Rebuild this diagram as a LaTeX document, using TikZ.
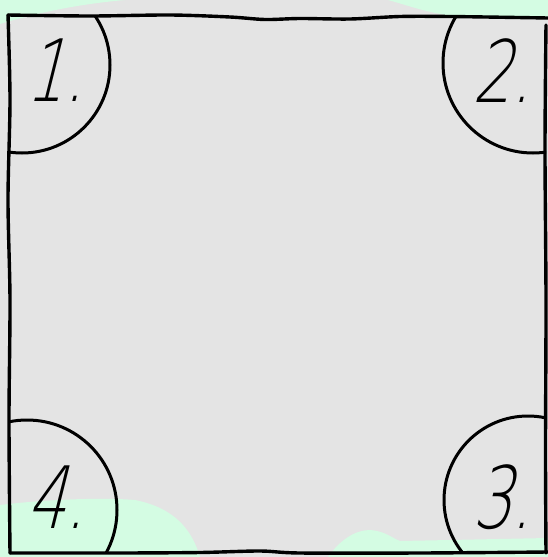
\documentclass[tikz,border=0pt]{standalone}
\usepackage{fontspec}
\newfontfamily\handfont[FakeSlant=0.25,FakeStretch=0.72]{DejaVu Sans ExtraLight}
\definecolor{bggray}{HTML}{E4E4E4}
\definecolor{mint}{HTML}{D4FCE3}
\begin{document}
\begin{tikzpicture}[x=1pt,y=-1pt,
  edge/.style={line width=3.4pt, line cap=round, line join=round},
  arcline/.style={line width=3pt},
  numtxt/.style={inner sep=0pt, font=\handfont\fontsize{86}{86}\selectfont}]
\fill[bggray] (0,0) rectangle (548,557);
\useasboundingbox (0,0) rectangle (548,557);
% mint blobs
\fill[mint] (0,0) -- (125,0) .. controls (80,4) and (40,12) .. (0,24) -- cycle;
\fill[mint] (388,0) .. controls (410,6) and (430,14) .. (462,17) -- (548,17) -- (548,0) -- cycle;
\fill[mint] (0,505) .. controls (40,500) and (100,497) .. (135,500)
  .. controls (175,508) and (192,530) .. (200,557) -- (0,557) -- cycle;
\fill[mint] (328,557) .. controls (340,540) and (355,530) .. (370,530)
  .. controls (385,531) and (392,538) .. (400,541) -- (548,538) -- (548,557) -- cycle;
% corner circles
\begin{scope}
\clip (9,16) rectangle (546,553);
\draw[arcline] (22,65) circle[radius=88pt];
\draw[arcline] (533,63) circle[radius=90pt];
\draw[arcline] (528,500) circle[radius=84pt];
\draw[arcline] (27,510) circle[radius=90pt];
\end{scope}
% hand-drawn frame
\draw[edge] plot[smooth] coordinates {(8,15) (90,16) (170,15) (230,17) (265,19.5) (300,18.5) (350,19) (400,16.5) (450,16.5) (548,18)};
\draw[edge] plot[smooth] coordinates {(8,15) (10,100) (8,200) (10,300) (9,420) (10,553)};
\draw[edge] plot[smooth] coordinates {(10,553) (120,553) (200,552.5) (260,551) (300,553) (420,553) (548,552)};
\draw[edge] plot[smooth] coordinates {(546,25) (545,150) (546,300) (545.5,450) (546,553)};
% numbers
\node[numtxt] (n1) at (55,70) {1.};
\node[numtxt] (n2) at (502,71) {2.};
\node[numtxt] (n3) at (502,497) {3.};
\node[numtxt] (n4) at (56,497) {4.};
\end{tikzpicture}
\end{document}
